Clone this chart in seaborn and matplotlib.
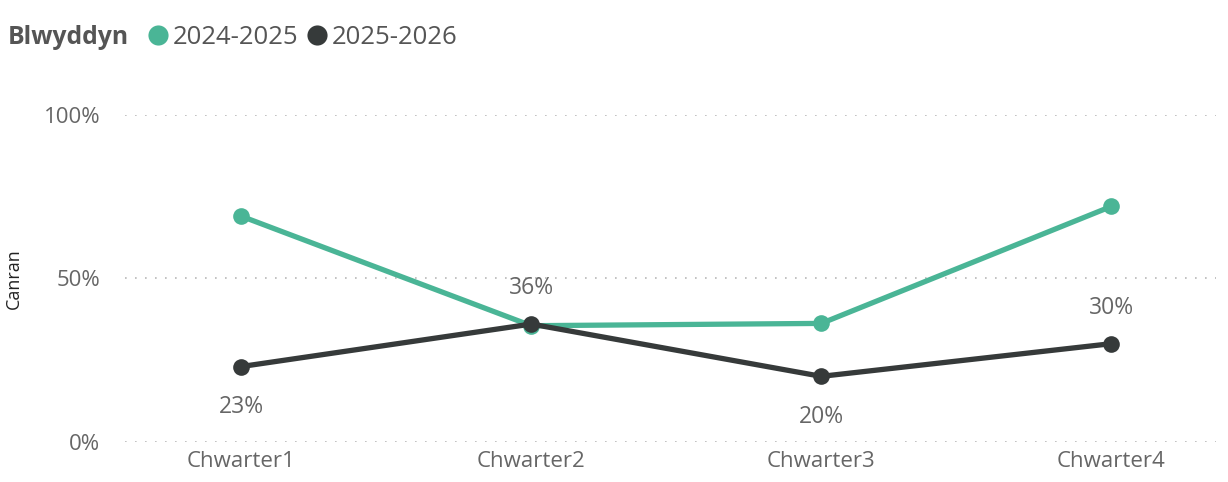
import numpy as np
import pandas as pd
import matplotlib
matplotlib.use("Agg")
import matplotlib.pyplot as plt
from matplotlib.lines import Line2D
import seaborn as sns

quarters = ["Chwarter1", "Chwarter2", "Chwarter3", "Chwarter4"]
years = ["2024-2025", "2025-2026"]
vals_2024 = [0.69, 0.355, 0.362, 0.72]
vals_2025 = [0.23, 0.36, 0.20, 0.30]
label_pos = ["below", "above", "below", "above"]

colors = {"2024-2025": "#4AB596", "2025-2026": "#363A3A"}
text_grey = "#666666"

df = pd.DataFrame({
    "Chwarter": quarters * 2,
    "Canran": vals_2024 + vals_2025,
    "Blwyddyn": [years[0]] * 4 + [years[1]] * 4,
})

sns.set_style("white")
plt.rcParams["font.family"] = ["Open Sans", "DejaVu Sans"]

fig = plt.figure(figsize=(12.28, 4.82), dpi=100)
ax = fig.add_axes([0.102, 0.0836, 0.888, 0.678])

sns.lineplot(data=df, x="Chwarter", y="Canran", hue="Blwyddyn", palette=colors,
             marker="o", markersize=12, markeredgewidth=0, linewidth=3.8,
             legend=False, ax=ax, clip_on=False)

# labeli data ar gyfer 2025-2026
for i, (v, pos) in enumerate(zip(vals_2025, label_pos)):
    off = 0.11 if pos == "above" else -0.125
    ax.text(i, v + off, f"{v:.0%}", ha="center", va="center",
            fontsize=16.5, color=text_grey)

ax.set_ylim(0, 1.0)
ax.set_xlim(-0.4, 3.36)
ax.set_yticks([0, 0.5, 1.0])
ax.set_yticklabels(["0%", "50%", "100%"])
ax.yaxis.grid(True, linestyle=(0, (1, 5)), color="#B8B8B8", linewidth=1.2)
ax.xaxis.grid(False)
sns.despine(ax=ax, left=True, bottom=True)
ax.tick_params(axis="both", length=0, labelsize=16, labelcolor=text_grey)
ax.tick_params(axis="y", pad=18)
ax.tick_params(axis="x", pad=7)
ax.set_xlabel("")
ax.set_ylabel("Canran", fontsize=13, color="#222222")
ax.yaxis.set_label_coords(-0.094, 0.5)

fig.text(8 / 1228, 1 - 37 / 482, "Blwyddyn", fontsize=17.8, fontweight="bold",
         color="#555555", va="center", ha="left")
handles = [Line2D([], [], marker="o", linestyle="", markersize=14.5,
                  markerfacecolor=colors[y], markeredgewidth=0) for y in years]
fig.legend(handles, years, loc="center left", ncol=2, frameon=False,
           bbox_to_anchor=(144 / 1228, 1 - 37 / 482), fontsize=18.5,
           handletextpad=0.0, columnspacing=0.2, handlelength=1.1,
           labelcolor="#555555", borderpad=0, borderaxespad=0)

fig.savefig("out.png", dpi=100)
plt.close(fig)
